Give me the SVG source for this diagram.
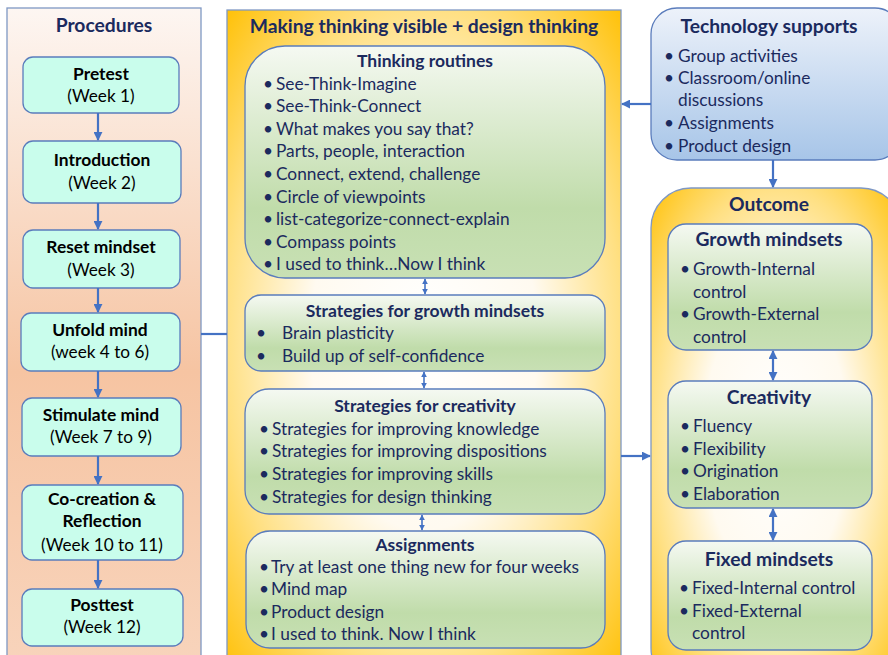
<svg xmlns="http://www.w3.org/2000/svg" width="888" height="655" viewBox="0 0 888 655">
  <defs>
    <linearGradient id="gProc" x1="0" y1="0" x2="0" y2="1">
      <stop offset="0" stop-color="#fdf6f2"/>
      <stop offset="0.55" stop-color="#f6c4a2"/>
      <stop offset="1" stop-color="#f8d4bc"/>
    </linearGradient>
    <radialGradient id="gGold" cx="0.5" cy="0.5" r="0.72">
      <stop offset="0" stop-color="#ffffff"/>
      <stop offset="0.4" stop-color="#fffaf0"/>
      <stop offset="0.7" stop-color="#ffe083"/>
      <stop offset="1" stop-color="#ffbf00"/>
    </radialGradient>
    <linearGradient id="gGreen" x1="0" y1="0" x2="0" y2="1">
      <stop offset="0" stop-color="#f5f9f2"/>
      <stop offset="0.7" stop-color="#c0dcaa"/>
      <stop offset="1" stop-color="#c8e0b4"/>
    </linearGradient>
    <linearGradient id="gBlue" x1="0" y1="0" x2="0" y2="1">
      <stop offset="0" stop-color="#edf2fa"/>
      <stop offset="1" stop-color="#a7c5e8"/>
    </linearGradient>
    <marker id="ah" viewBox="0 0 10 10" refX="9" refY="5" markerWidth="9" markerHeight="9" markerUnits="userSpaceOnUse" orient="auto-start-reverse">
      <path d="M0,0 L10,5 L0,10 z" fill="#4472c4"/>
    </marker>
    <marker id="ahs" viewBox="0 0 10 10" refX="9" refY="5" markerWidth="6" markerHeight="6" markerUnits="userSpaceOnUse" orient="auto-start-reverse">
      <path d="M0,0 L10,5 L0,10 z" fill="#4472c4"/>
    </marker>
  </defs>
  <style>
    text { font-family: Lato, "Liberation Sans", sans-serif; fill: #1b2a5e; }
    .t18 { font-size: 19.3px; font-weight: bold; }
    .t16b { font-size: 17.5px; font-weight: bold; }
    .b { font-size: 17.3px; }
    .pb { font-size: 17.4px; font-weight: bold; fill: #000; }
    .pr { font-size: 17.2px; fill: #000; }
    .mid { text-anchor: middle; }
    .panel { stroke: #7f98c4; stroke-width: 1.3; }
    .proc { fill: #c9fdec; stroke: #5a7cbc; stroke-width: 1.3; }
    .green { fill: url(#gGreen); stroke: #5a7cbc; stroke-width: 1.3; }
    .conn { stroke: #4472c4; stroke-width: 2.2; fill: none; }
    .conns { stroke: #4472c4; stroke-width: 1.6; fill: none; }
  </style>

  <!-- Procedures column -->
  <g id="procedures">
    <rect class="panel" x="7" y="8" width="194" height="660" fill="url(#gProc)"/>
    <text class="t18 mid" x="104" y="32">Procedures</text>
  </g>
  <g id="pretest">
    <rect class="proc" x="23" y="57" width="156" height="56" rx="10"/>
    <text class="pb mid" x="101" y="80">Pretest</text>
    <text class="pr mid" x="101" y="102">(Week 1)</text>
  </g>
  <g id="introduction">
    <rect class="proc" x="23" y="141" width="158" height="62" rx="10"/>
    <text class="pb mid" x="102" y="166">Introduction</text>
    <text class="pr mid" x="102" y="189">(Week 2)</text>
  </g>
  <g id="reset">
    <rect class="proc" x="23" y="230" width="157" height="58" rx="10"/>
    <text class="pb mid" x="101" y="253">Reset mindset</text>
    <text class="pr mid" x="101" y="276">(Week 3)</text>
  </g>
  <g id="unfold">
    <rect class="proc" x="21" y="313" width="159" height="58" rx="10"/>
    <text class="pb mid" x="100" y="336">Unfold mind</text>
    <text class="pr mid" x="100" y="358">(week 4 to 6)</text>
  </g>
  <g id="stimulate">
    <rect class="proc" x="22" y="398" width="159" height="58" rx="10"/>
    <text class="pb mid" x="101" y="421">Stimulate mind</text>
    <text class="pr mid" x="101" y="443">(Week 7 to 9)</text>
  </g>
  <g id="cocreation">
    <rect class="proc" x="22" y="485" width="161" height="75" rx="10"/>
    <text class="pb mid" x="102" y="505">Co-creation &amp;</text>
    <text class="pb mid" x="102" y="527">Reflection</text>
    <text class="pr mid" x="102" y="551">(Week 10 to 11)</text>
  </g>
  <g id="posttest">
    <rect class="proc" x="22" y="589" width="161" height="57" rx="10"/>
    <text class="pb mid" x="102" y="611">Posttest</text>
    <text class="pr mid" x="102" y="633">(Week 12)</text>
  </g>

  <!-- Making thinking visible panel -->
  <g id="mtv">
    <rect class="panel" x="227" y="10" width="394" height="660" fill="url(#gGold)"/>
    <text class="t18 mid" x="424" y="33">Making thinking visible + design thinking</text>
  </g>
  <g id="routines">
    <rect class="green" x="245" y="46" width="360" height="232" rx="40"/>
    <text class="t16b mid" x="425" y="67">Thinking routines</text>
    <g class="b">
      <text x="263" y="90">•</text><text x="276" y="90">See-Think-Imagine</text>
      <text x="263" y="112">•</text><text x="276" y="112">See-Think-Connect</text>
      <text x="263" y="135">•</text><text x="276" y="135">What makes you say that?</text>
      <text x="263" y="157">•</text><text x="276" y="157">Parts, people, interaction</text>
      <text x="263" y="180">•</text><text x="276" y="180">Connect, extend, challenge</text>
      <text x="263" y="203">•</text><text x="276" y="203">Circle of viewpoints</text>
      <text x="263" y="225">•</text><text x="276" y="225">list-categorize-connect-explain</text>
      <text x="263" y="248">•</text><text x="276" y="248">Compass points</text>
      <text x="263" y="270">•</text><text x="276" y="270">I used to think…Now I think</text>
    </g>
  </g>
  <g id="growth-strategies">
    <rect class="green" x="245" y="295" width="360" height="76" rx="16"/>
    <text class="t16b mid" x="425" y="317">Strategies for growth mindsets</text>
    <g class="b">
      <text x="256" y="339">•</text><text x="282" y="339">Brain plasticity</text>
      <text x="256" y="362">•</text><text x="282" y="362">Build up of self-confidence</text>
    </g>
  </g>
  <g id="creativity-strategies">
    <rect class="green" x="245" y="389" width="360" height="125" rx="24"/>
    <text class="t16b mid" x="425" y="412">Strategies for creativity</text>
    <g class="b">
      <text x="259" y="435">•</text><text x="272" y="435">Strategies for improving knowledge</text>
      <text x="259" y="457">•</text><text x="272" y="457">Strategies for improving dispositions</text>
      <text x="259" y="480">•</text><text x="272" y="480">Strategies for improving skills</text>
      <text x="259" y="503">•</text><text x="272" y="503">Strategies for design thinking</text>
    </g>
  </g>
  <g id="assignments">
    <rect class="green" x="246" y="531" width="359" height="117" rx="24"/>
    <text class="t16b mid" x="425" y="551">Assignments</text>
    <g class="b">
      <text x="259" y="573">•</text><text x="271" y="573">Try at least one thing new for four weeks</text>
      <text x="259" y="595">•</text><text x="271" y="595">Mind map</text>
      <text x="259" y="618">•</text><text x="271" y="618">Product design</text>
      <text x="259" y="640">•</text><text x="271" y="640">I used to think. Now I think</text>
    </g>
  </g>

  <!-- Technology supports -->
  <g id="technology">
    <rect x="651" y="8" width="250" height="152" rx="26" fill="url(#gBlue)" stroke="#5a7cbc" stroke-width="1.3"/>
    <text class="t18 mid" x="769" y="33">Technology supports</text>
    <g class="b">
      <text x="664" y="62">•</text><text x="678" y="62">Group activities</text>
      <text x="664" y="84">•</text><text x="678" y="84">Classroom/online</text>
      <text x="678" y="106">discussions</text>
      <text x="664" y="129">•</text><text x="678" y="129">Assignments</text>
      <text x="664" y="152">•</text><text x="678" y="152">Product design</text>
    </g>
  </g>

  <!-- Outcome -->
  <g id="outcome">
    <rect class="panel" x="651" y="188" width="250" height="500" rx="40" fill="url(#gGold)" stroke="#5a7cbc"/>
    <text class="t18 mid" x="769" y="211">Outcome</text>
  </g>
  <g id="growth-mindsets">
    <rect class="green" x="668" y="224" width="204" height="126" rx="18"/>
    <text class="t18 mid" x="769" y="246">Growth mindsets</text>
    <g class="b">
      <text x="680" y="275">•</text><text x="693" y="275">Growth-Internal</text>
      <text x="693" y="298">control</text>
      <text x="680" y="320">•</text><text x="693" y="320">Growth-External</text>
      <text x="693" y="343">control</text>
    </g>
  </g>
  <g id="creativity">
    <rect class="green" x="668" y="381" width="204" height="127" rx="18"/>
    <text class="t18 mid" x="769" y="404">Creativity</text>
    <g class="b">
      <text x="680" y="432">•</text><text x="693" y="432">Fluency</text>
      <text x="680" y="455">•</text><text x="693" y="455">Flexibility</text>
      <text x="680" y="477">•</text><text x="693" y="477">Origination</text>
      <text x="680" y="500">•</text><text x="693" y="500">Elaboration</text>
    </g>
  </g>
  <g id="fixed-mindsets">
    <rect class="green" x="668" y="541" width="204" height="109" rx="18"/>
    <text class="t18 mid" x="769" y="566">Fixed mindsets</text>
    <g class="b">
      <text x="679" y="594">•</text><text x="692" y="594">Fixed-Internal control</text>
      <text x="679" y="617">•</text><text x="692" y="617">Fixed-External</text>
      <text x="692" y="639">control</text>
    </g>
  </g>

  <!-- Connectors -->
  <g id="connectors">
    <line class="conn" x1="98" y1="113" x2="98" y2="140" marker-end="url(#ah)"/>
    <line class="conn" x1="98" y1="203" x2="98" y2="229" marker-end="url(#ah)"/>
    <line class="conn" x1="98" y1="288" x2="98" y2="312" marker-end="url(#ah)"/>
    <line class="conn" x1="98" y1="371" x2="98" y2="397" marker-end="url(#ah)"/>
    <line class="conn" x1="98" y1="456" x2="98" y2="484" marker-end="url(#ah)"/>
    <line class="conn" x1="98" y1="560" x2="98" y2="588" marker-end="url(#ah)"/>
    <line class="conn" x1="201" y1="334" x2="227" y2="334"/>
    <line class="conn" x1="651" y1="104" x2="622" y2="104" marker-end="url(#ah)"/>
    <line class="conn" x1="773" y1="160" x2="773" y2="187" marker-end="url(#ah)"/>
    <line class="conn" x1="621" y1="456" x2="650" y2="456" marker-end="url(#ah)"/>
    <line class="conns" x1="425" y1="279" x2="425" y2="294" marker-start="url(#ahs)" marker-end="url(#ahs)"/>
    <line class="conns" x1="424" y1="372" x2="424" y2="388" marker-start="url(#ahs)" marker-end="url(#ahs)"/>
    <line class="conns" x1="422" y1="515" x2="422" y2="530" marker-start="url(#ahs)" marker-end="url(#ahs)"/>
    <line class="conn" x1="773" y1="351" x2="773" y2="380" marker-start="url(#ah)" marker-end="url(#ah)"/>
    <line class="conn" x1="773" y1="509" x2="773" y2="540" marker-start="url(#ah)" marker-end="url(#ah)"/>
  </g>
</svg>
